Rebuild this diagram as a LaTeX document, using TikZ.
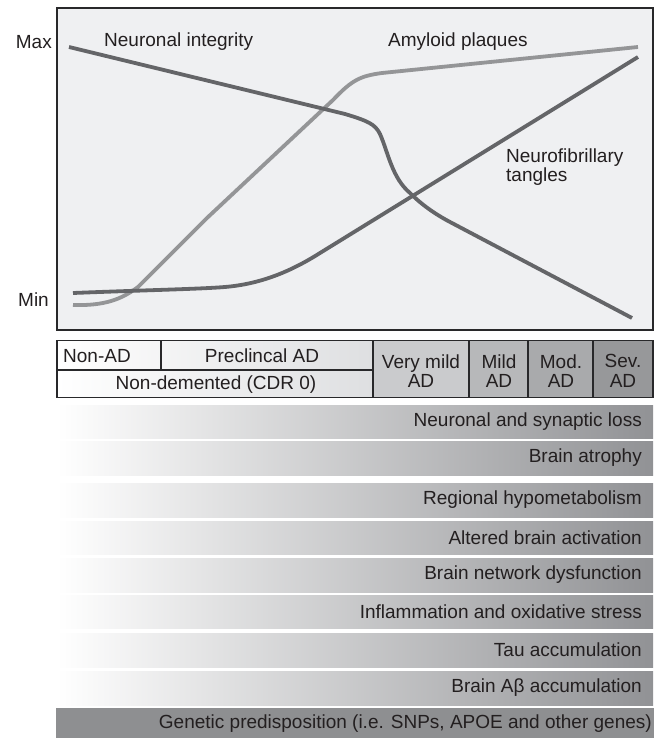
\documentclass[tikz,border=0pt]{standalone}
\usepackage{fontspec}
\setmainfont{Liberation Sans}
\definecolor{txt}{RGB}{35,31,32}
\definecolor{chartbg}{RGB}{239,240,242}
\definecolor{curvedark}{RGB}{100,101,104}
\definecolor{curvelight}{RGB}{148,149,151}
\definecolor{barend}{RGB}{145,146,149}
\definecolor{geneticfill}{RGB}{142,143,145}
\definecolor{frame}{RGB}{40,40,42}
\definecolor{leftend}{RGB}{222,223,225}
\definecolor{vmild}{RGB}{202,203,205}
\definecolor{mildc}{RGB}{183,184,186}
\definecolor{modc}{RGB}{169,170,172}
\definecolor{sevc}{RGB}{151,152,154}
\begin{document}
\begin{tikzpicture}[x=1pt,y=-1pt,
  lbl/.style={inner sep=0pt, text=txt, font=\fontsize{19}{19.5}\selectfont},
  cell/.style={lbl, align=center},
  curve/.style={line width=3.8pt},
  gridline/.style={draw=frame, line width=1.3pt},
  barshade/.style={left color=white, right color=barend}
]
\useasboundingbox (0,0) rectangle (656,738);

% chart
\draw[frame, line width=1.6pt, fill=chartbg] (57,8) rectangle (653,330);
\node[lbl, anchor=east] (max) at (52,42) {Max};
\node[lbl, anchor=east] (min) at (49,300) {Min};
\node[lbl, anchor=west] (ni) at (104,42) {Neuronal integrity};
\node[lbl, anchor=west] (ap) at (388,42) {Amyloid plaques};
\node[lbl, anchor=west, align=left] (nft) at (506,167) {Neurofibrillary\\tangles};

% amyloid plaques
\draw[curve, curvelight] (73,305) .. controls (105,306) and (122,299) .. (138,287)
  -- (207,218) -- (333,100) .. controls (352,80) and (360,76) .. (382,73) -- (638,47);
% neurofibrillary tangles
\draw[curve, curvedark] (73,293) .. controls (150,290) and (200,289) .. (225,287)
  .. controls (260,284) and (290,272) .. (320,253) -- (638,57);
% neuronal integrity
\draw[curve, curvedark] (69,47) -- (345,114) .. controls (368,121) and (375,124) .. (380,134)
  .. controls (388,152) and (392,178) .. (410,193)
  .. controls (422,205) and (435,214) .. (450,222) -- (632,318);

% stage table
\shade[left color=white, right color=leftend] (57,340.5) rectangle (373,397.5);
\fill[vmild] (373,340.5) rectangle (469,397.5);
\fill[mildc] (469,340.5) rectangle (528,397.5);
\fill[modc] (528,340.5) rectangle (593,397.5);
\fill[sevc] (593,340.5) rectangle (653,397.5);
\draw[gridline] (57,340.5) rectangle (653,397.5);
\draw[gridline] (57,370) -- (373,370);
\draw[gridline] (161,340.5) -- (161,370);
\draw[gridline] (373,340.5) -- (373,397.5);
\draw[gridline] (469,340.5) -- (469,397.5);
\draw[gridline] (528,340.5) -- (528,397.5);
\draw[gridline] (593,340.5) -- (593,397.5);
\node[lbl, anchor=west] (nonad) at (63,356) {Non-AD};
\node[cell] (precl) at (262,356) {Preclincal AD};
\node[cell] (nondem) at (216,384.5) {Non-demented (CDR 0)};
\node[cell] (vm) at (421,371) {Very mild\\AD};
\node[cell] (mi) at (499,371) {Mild\\AD};
\node[cell] (mo) at (561,371) {Mod.\\AD};
\node[cell] (se) at (623,371) {Sev.\\AD};

% bars
\foreach \t/\b/\n/\s in {405/438/b1/{Neuronal and synaptic loss},
                          441/475/b2/{Brain atrophy},
                          483/517/b3/{Regional hypometabolism},
                          521/554/b4/{Altered brain activation},
                          558/592/b5/{Brain network dysfunction},
                          595/628/b6/{Inflammation and oxidative stress},
                          633/667/b7/{Tau accumulation},
                          671/705/b8/{Brain Aβ accumulation}}{
  \shade[barshade] (57,\t) rectangle (653,\b);
  \node[lbl, anchor=east] (\n) at (642,{(\t+\b)/2}) {\s};
}
\fill[geneticfill] (56,708) rectangle (654,738);
\node[lbl, anchor=east] (b9) at (652,724) {Genetic predisposition (i.e. SNPs, APOE and other genes)};
\end{tikzpicture}
\end{document}
